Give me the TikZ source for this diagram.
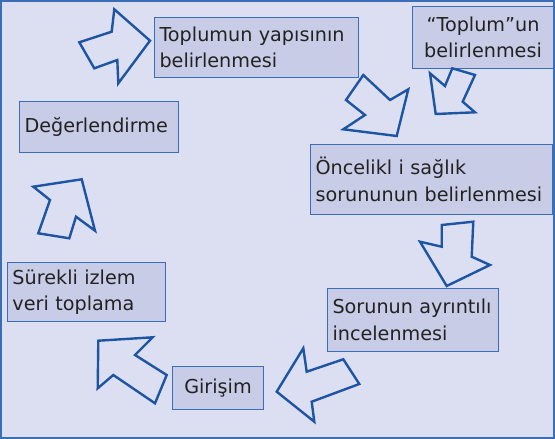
\documentclass[tikz,border=0pt]{standalone}
\usepackage{fontspec}
\setmainfont{DejaVu Sans}
\usepackage{xcolor}
\usetikzlibrary{positioning}

\definecolor{panelbg}{HTML}{DCDFF1}
\definecolor{boxbg}{HTML}{C8CCE6}
\definecolor{boxline}{HTML}{3A6FB8}
\definecolor{arrowline}{HTML}{1D55A3}
\definecolor{textcol}{HTML}{222222}

\begin{document}
\begin{tikzpicture}[
    x=1pt, y=-1pt,
    stepbox/.style={rectangle, draw=boxline, line width=1pt, fill=boxbg, anchor=north west,
        inner xsep=5pt, inner ysep=0pt, align=left, text=textcol, font=\fontsize{19.2}{26.5}\selectfont},
    blockarrow/.style={draw=arrowline, line width=2.4pt, line join=miter, fill=none}
]

% Panel
\useasboundingbox (0,0) rectangle (555,439);
\draw[draw=boxline, line width=2pt, fill=panelbg] (1,1) rectangle (554,438);

% Steps of the cycle
\node[stepbox, minimum width=204pt, minimum height=60pt, text width=194pt] (yapi) at (154,17)
    {Toplumun yapısının\\belirlenmesi};
\node[stepbox, minimum width=141pt, minimum height=62pt, text width=131pt, align=center] (toplum) at (412,6)
    {“Toplum”un\\belirlenmesi};
\node[stepbox, minimum width=242pt, minimum height=70pt, text width=232pt] (oncelik) at (310,144)
    {Öncelikl i sağlık\\sorununun belirlenmesi};
\node[stepbox, minimum width=171pt, minimum height=63pt, text width=161pt] (inceleme) at (327,288)
    {Sorunun ayrıntılı\\incelenmesi};
\node[stepbox, minimum width=91pt, minimum height=43pt, text width=81pt, align=center] (girisim) at (172,366)
    {Girişim};
\node[stepbox, minimum width=158pt, minimum height=59pt, text width=148pt] (izlem) at (7,262)
    {Sürekli izlem\\veri toplama};
\node[stepbox, minimum width=159pt, minimum height=51pt, text width=149pt] (deger) at (19,101)
    {Değerlendirme};

% Block arrows between the steps
\draw[blockarrow] (150,40.7) -- (114.3,9.3) -- (111.7,31.7) -- (79.3,42.3) -- (94.3,68.3) -- (117.3,60) -- (118.3,83.3) -- cycle;
\draw[blockarrow] (396.7,136) -- (343.3,129.3) -- (365,115) -- (346,100) -- (363.3,75) -- (390,100) -- (408.3,89.3) -- cycle;
\draw[blockarrow] (435.7,114) -- (430,73.3) -- (445,86) -- (452.3,68.3) -- (475,75) -- (462.7,101.7) -- (475,112.3) -- cycle;
\draw[blockarrow] (446.7,286) -- (420,241.7) -- (441.7,246.7) -- (441.7,225) -- (473.3,221.7) -- (471.7,256.7) -- (490,265) -- cycle;
\draw[blockarrow] (276.7,391.7) -- (303.3,348.3) -- (306.7,371.7) -- (343.3,359.3) -- (359.3,384) -- (311.7,401.7) -- (314.3,421.7) -- cycle;
\draw[blockarrow] (98.3,340.7) -- (152.7,337.3) -- (135,355) -- (166.7,375) -- (155,403.3) -- (113.3,375) -- (97.7,388.3) -- cycle;
\draw[blockarrow] (81.7,179.3) -- (95,230.7) -- (76,216.7) -- (69.3,238.3) -- (38.3,233.3) -- (50,200) -- (33.3,186.7) -- cycle;

\end{tikzpicture}
\end{document}
